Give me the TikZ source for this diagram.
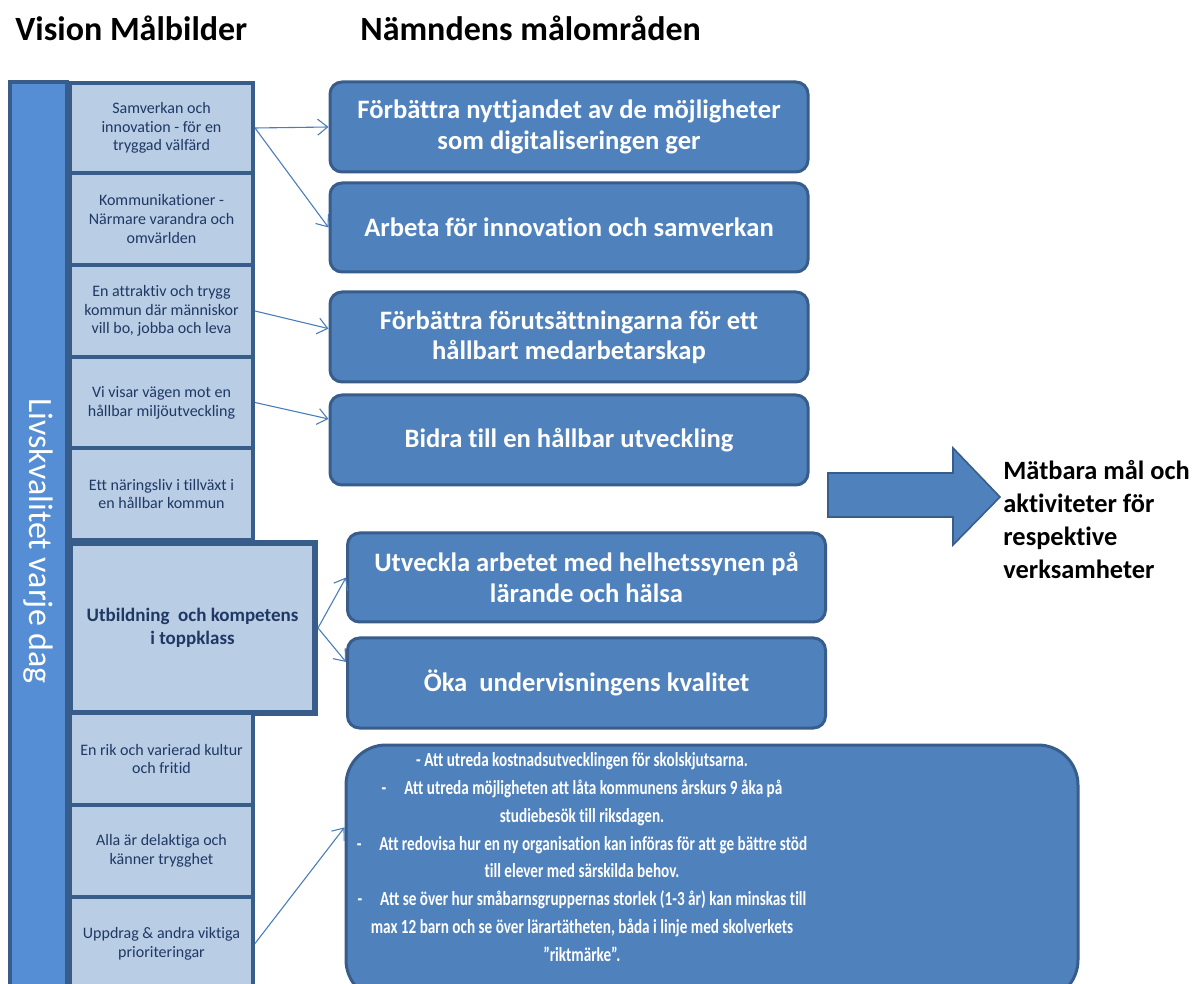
\documentclass[tikz,border=0pt]{standalone}
\usepackage{fontspec}
\setmainfont{Carlito}[Ligatures={NoCommon}]
\newfontfamily\smalfont[FakeStretch=0.76,Ligatures={NoCommon}]{Carlito}
\usetikzlibrary{arrows.meta}
\definecolor{blafyll}{HTML}{4F81BD}
\definecolor{blakant}{HTML}{385D8A}
\definecolor{ljusbla}{HTML}{B9CDE5}
\definecolor{stapel}{HTML}{558ED5}
\definecolor{marin}{HTML}{1F3864}
\definecolor{pilbla}{HTML}{4A7EBB}
\tikzset{
	rubrik/.style={anchor=west,inner sep=0pt,font=\fontsize{17}{20}\selectfont\bfseries},
	vbox/.style={draw=blakant,fill=ljusbla,line width=2pt,text=marin,align=center,inner sep=0pt,minimum width=91.5pt,minimum height=46pt,font=\fontsize{8}{9.4}\selectfont},
	mbox/.style={draw=blakant,fill=blafyll,line width=1.5pt,rounded corners=6pt,text=white,align=center,inner sep=0pt,minimum width=239pt,minimum height=45pt,font=\fontsize{13.3}{15.2}\selectfont\bfseries},
	pil/.style={draw=pilbla,line width=0.55pt,-{Straight Barb[length=5pt,width=8pt]}}
}
\begin{document}
\begin{tikzpicture}[x=0.5pt,y=-0.5pt]
	\useasboundingbox (0,0) rectangle (1196,984);
	% rubriker
	\node[rubrik] (vis) at (15,28) {Vision Målbilder};
	\node[rubrik] (nam) at (360,28) {Nämndens målområden};
	% stapeln till vänster
	\node[draw=blakant,fill=stapel,line width=2pt,rotate=-90,minimum width=459pt,minimum height=28.5pt,inner sep=0pt,text=white,font=\fontsize{17}{20}\selectfont] (bar) at (38.5,541) {Livskvalitet varje dag};
	% målbilder
	\node[vbox,minimum height=45pt] (v1) at (161.5,128) {Samverkan och\\innovation - för en\\tryggad välfärd};
	\node[vbox] (v2) at (161.5,219) {Kommunikationer -\\Närmare varandra och\\omvärlden};
	\node[vbox] (v3) at (161.5,311) {En attraktiv och trygg\\kommun där människor\\vill bo, jobba och leva};
	\node[vbox,minimum height=45.5pt] (v4) at (161.5,402.5) {Vi visar vägen mot en\\hållbar miljöutveckling};
	\node[vbox] (v5) at (161.5,494) {Ett näringsliv i tillväxt i\\en hållbar kommun};
	\node[vbox,line width=3pt,minimum width=122.5pt,minimum height=85pt,font=\fontsize{9.5}{11.5}\selectfont\bfseries] (v6) at (192.5,628) {Utbildning\ \ och kompetens\\i toppklass};
	\node[vbox] (v7) at (161.5,759) {En rik och varierad kultur\\och fritid};
	\node[vbox] (v8) at (161.5,851) {Alla är delaktiga och\\känner trygghet};
	\node[vbox,minimum height=46.5pt] (v9) at (161.5,943.5) {Uppdrag \& andra viktiga\\prioriteringar};
	% målområden
	\node[mbox] (m1) at (569,127) {Förbättra nyttjandet av de möjligheter\\som digitaliseringen ger};
	\node[mbox,minimum height=44.5pt] (m2) at (569,227.5) {Arbeta för innovation och samverkan};
	\node[mbox] (m3) at (569,337) {Förbättra förutsättningarna för ett\\hållbart medarbetarskap};
	\node[mbox] (m4) at (569,440) {Bidra till en hållbar utveckling};
	\node[mbox,minimum height=44.5pt] (m5) at (586.5,577.5) {Utveckla arbetet med helhetssynen på\\lärande och hälsa};
	\node[mbox] (m6) at (586.5,683) {Öka\ \ undervisningens kvalitet};
	\node[mbox,rounded corners=20pt,minimum width=366pt,minimum height=127.5pt] (upp) at (712,872.5) {};
	\node[text=white,align=center,inner sep=0pt,font=\smalfont\bfseries\fontsize{10}{13.9}\selectfont] (upptext) at (582,857) {- Att utreda kostnadsutvecklingen för skolskjutsarna.\\
		-\hspace{0.9em}Att utreda möjligheten att låta kommunens årskurs 9 åka på\\
		studiebesök till riksdagen.\\
		-\hspace{0.9em}Att redovisa hur en ny organisation kan införas för att ge bättre stöd\\
		till elever med särskilda behov.\\
		-\hspace{0.9em}Att se över hur småbarnsgruppernas storlek (1-3 år) kan minskas till\\
		max 12 barn och se över lärartätheten, båda i linje med skolverkets\\
		”riktmärke”.};
	% blockpil och resultat
	\fill[blafyll,draw=blakant,line width=0.8pt] (828,473)--(953,473)--(953,448)--(1000,497)--(953,545)--(953,517)--(828,517)--cycle;
	\node[anchor=west,align=left,inner sep=0pt,font=\fontsize{13.2}{16.5}\selectfont\bfseries] (res) at (1003,520) {Mätbara mål och\\aktiviteter för\\respektive\\verksamheter};
	% pilar
	\draw[pil] (v1.east) -- (m1.west);
	\draw[pil] (v1.east) -- (m2.west);
	\draw[pil] (v3.east) -- (m3.178);
	\draw[pil] (v4.east) -- (m4.175);
	\draw[pil] (v6.east) -- (m5.west);
	\draw[pil] (v6.east) -- (m6.175);
	\draw[pil] (v9.east) -- (upp.173);
\end{tikzpicture}
\end{document}
